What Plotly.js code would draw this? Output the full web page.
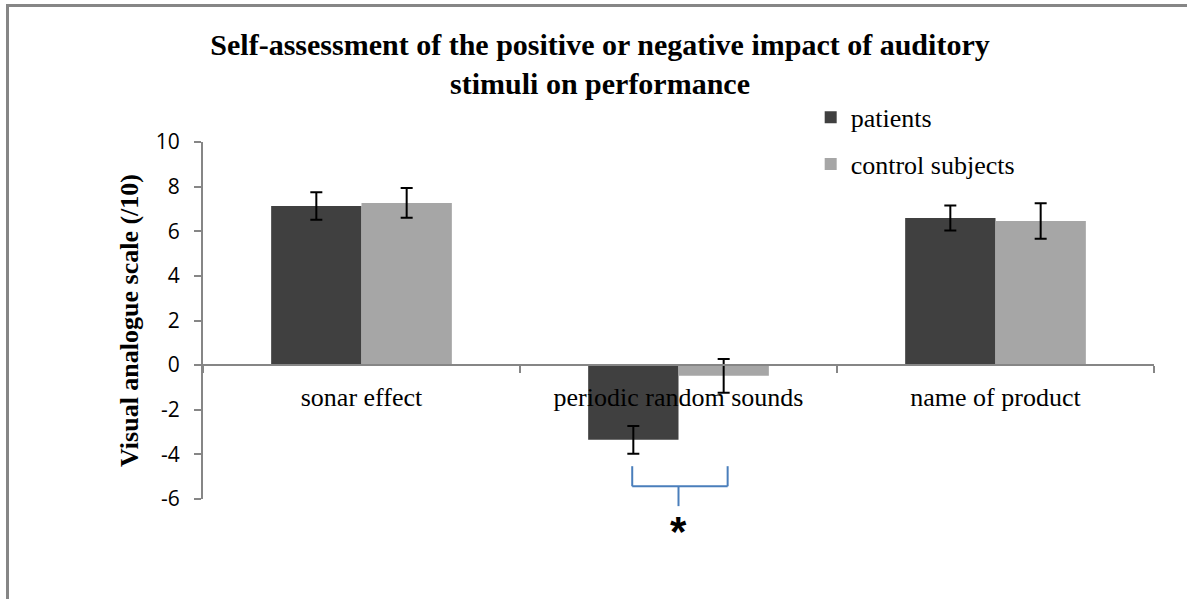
<!DOCTYPE html>
<html>
<head>
<meta charset="utf-8">
<script src="https://cdn.plot.ly/plotly-3.0.1.min.js"></script>
<style>
  html, body { margin: 0; padding: 0; background: #fff; }
  #wrap { position: relative; width: 1187px; height: 599px; }
  #chart { width: 1187px; height: 599px; }
  #frame { position: absolute; left: 6px; top: 4px; width: 1190px; height: 600px;
           border-left: 3px solid #868686; border-top: 3px solid #868686; pointer-events: none; }
</style>
</head>
<body>
<div id="wrap">
  <div id="chart"></div>
  <div id="frame"></div>
</div>
<script>
const categories = ["sonar effect", "periodic random sounds", "name of product"];
const patientsMean = [7.13, -3.35, 6.59];
const patientsErr = [0.62, 0.62, 0.56];
const controlMean = [7.27, -0.48, 6.46];
const controlErr = [0.67, 0.76, 0.80];
const seriesNames = ["patients", "control subjects"];
const yTickVals = [-6, -4, -2, 0, 2, 4, 6, 8, 10];
const yTickLabels = ["-6", "-4", "-2", "0", "2", "4", "6", "8", "10"];
const yRange = [-6, 10];
const sigPair = 1; // index of category with significant difference
const sigLabel = "*";

const bargap = 0.43;
const toPaper = v => (v - yRange[0]) / (yRange[1] - yRange[0]);

const errStyle = {type: 'data', visible: true, color: '#000', thickness: 2, width: 6};

const traces = [
  {type: 'bar', name: seriesNames[0], x: categories, y: patientsMean,
   marker: {color: '#404040'}, legendgroup: 'a',
   error_y: Object.assign({array: patientsErr}, errStyle)},
  {type: 'bar', name: seriesNames[1], x: categories, y: controlMean,
   marker: {color: '#a6a6a6'}, legendgroup: 'b',
   error_y: Object.assign({array: controlErr}, errStyle)}
];

// significance bracket under the sigPair category
const xL = sigPair - 0.146, xR = sigPair + 0.155;
const yTop = toPaper(-4.53), yMid = toPaper(-5.43), yStem = toPaper(-6.32);
const bracketLine = {color: '#4a7ebb', width: 2};
const shapes = [
  {type: 'line', xref: 'x', yref: 'paper', x0: xL, x1: xL, y0: yTop, y1: yMid, line: bracketLine},
  {type: 'line', xref: 'x', yref: 'paper', x0: xR, x1: xR, y0: yTop, y1: yMid, line: bracketLine},
  {type: 'line', xref: 'x', yref: 'paper', x0: xL, x1: xR, y0: yMid, y1: yMid, line: bracketLine},
  {type: 'line', xref: 'x', yref: 'paper', x0: sigPair, x1: sigPair, y0: yMid, y1: yStem, line: bracketLine}
];

const layout = {
  width: 1187, height: 599,
  paper_bgcolor: '#fff', plot_bgcolor: '#fff',
  margin: {l: 203, r: 33, t: 142, b: 100},
  barmode: 'group', bargap: bargap, bargroupgap: 0,
  title: {
    text: 'Self-assessment of the positive or negative impact of auditory<br>stimuli on performance',
    font: {family: 'Liberation Serif', size: 30, color: '#000', weight: 'bold'},
    x: 0.5055, xref: 'container', xanchor: 'center',
    y: 1 - 55 / 599, yref: 'container', yanchor: 'middle'
  },
  xaxis: {
    type: 'category', anchor: 'free', position: toPaper(0),
    showline: true, linecolor: '#868686', linewidth: 2,
    ticks: 'outside', tickson: 'boundaries', ticklen: 7, tickcolor: '#868686', tickwidth: 2,
    showgrid: false, zeroline: false,
    tickfont: {family: 'Liberation Serif', size: 26, color: '#000'},
    ticklabelstandoff: 9
  },
  yaxis: {
    range: yRange, tickvals: yTickVals, ticktext: yTickLabels,
    showgrid: false, zeroline: false,
    showline: true, linecolor: '#868686', linewidth: 2,
    ticks: 'outside', ticklen: 7, tickcolor: '#868686', tickwidth: 2,
    tickfont: {family: 'Open Sans', size: 21, color: '#000'},
    ticklabelstandoff: 10,
    title: {text: 'Visual analogue scale (/10)', standoff: 10,
            font: {family: 'Liberation Serif', size: 26, color: '#000', weight: 'bold'}}
  },
  legend: {
    x: 0.639, y: 1.135, xanchor: 'left', yanchor: 'top',
    traceorder: 'grouped', tracegroupgap: 10,
    font: {family: 'Liberation Serif', size: 26, color: '#000'},
    bgcolor: 'rgba(0,0,0,0)'
  },
  shapes: shapes,
  annotations: [
    {xref: 'x', yref: 'paper', x: sigPair, y: toPaper(-7.45), text: '<b>' + sigLabel + '</b>',
     showarrow: false, font: {family: 'Liberation Sans', size: 42, color: '#000'},
     xanchor: 'center', yanchor: 'middle'}
  ],
  showlegend: true
};

Plotly.newPlot('chart', traces, layout, {displayModeBar: false, staticPlot: true});
</script>
</body>
</html>
